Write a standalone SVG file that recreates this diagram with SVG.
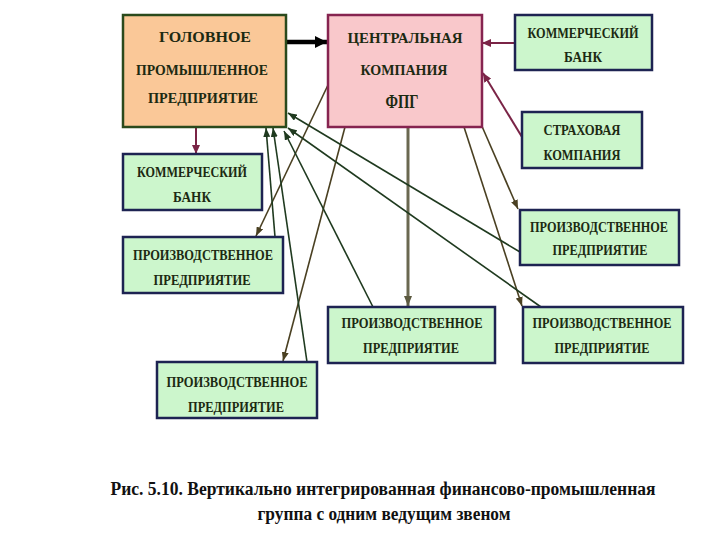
<svg xmlns="http://www.w3.org/2000/svg" width="720" height="540" viewBox="0 0 720 540">
<style>
.t{font-family:'Liberation Serif','DejaVu Serif',serif;font-weight:bold;font-size:15px;fill:#1c2a12;text-anchor:middle}
.cap{font-family:'Liberation Serif','DejaVu Serif',serif;font-weight:bold;font-size:18px;fill:#111;text-anchor:middle}
.g{fill:#ccf6cc;stroke:#1d2352;stroke-width:2.5}
.mar{stroke:#7a2446;stroke-width:2;fill:none}
.olv{stroke:#4a4022;stroke-width:1.6;fill:none}
.grn{stroke:#1f3a1f;stroke-width:1.6;fill:none}
</style>
<defs>
<marker id="aB" markerUnits="userSpaceOnUse" markerWidth="12" markerHeight="12" refX="12" refY="6" orient="auto"><path d="M0,0L12,6L0,12z" fill="#000"/></marker>
<marker id="aM" markerUnits="userSpaceOnUse" markerWidth="9" markerHeight="8" refX="9" refY="4" orient="auto"><path d="M0,0L9,4L0,8z" fill="#7a2446"/></marker>
<marker id="aO" markerUnits="userSpaceOnUse" markerWidth="9" markerHeight="7" refX="9" refY="3.5" orient="auto"><path d="M0,0L9,3.5L0,7z" fill="#4a4022"/></marker>
<marker id="aG" markerUnits="userSpaceOnUse" markerWidth="9" markerHeight="7" refX="9" refY="3.5" orient="auto"><path d="M0,0L9,3.5L0,7z" fill="#1f3a1f"/></marker>
<marker id="aV" markerUnits="userSpaceOnUse" markerWidth="10" markerHeight="8" refX="10" refY="4" orient="auto"><path d="M0,0L10,4L0,8z" fill="#5c5a40"/></marker>
</defs>
<rect width="720" height="540" fill="#fff"/>
<g id="connectors">
<path d="M286,42L327,42" stroke="#000" stroke-width="4.5" fill="none" marker-end="url(#aB)"/>
<path class="mar" d="M515,43L482,43" marker-end="url(#aM)"/>
<path class="mar" d="M522,137L483,73" marker-end="url(#aM)"/>
<path class="mar" d="M196,127L196,154" marker-end="url(#aM)"/>
<path class="olv" d="M328,85L256,236" marker-end="url(#aO)"/>
<path class="olv" d="M345,127L283,361" marker-end="url(#aO)"/>
<path d="M408,127L408,306" stroke="#6a6850" stroke-width="3" fill="none" marker-end="url(#aV)"/>
<path class="olv" d="M481,124L518,209" marker-end="url(#aO)"/>
<path class="olv" d="M464,127L522,306" marker-end="url(#aO)"/>
<path class="grn" d="M275,237L266,128" marker-end="url(#aG)"/>
<path class="grn" d="M307,362L273,128" marker-end="url(#aG)"/>
<path class="grn" d="M520,252L288,113" marker-end="url(#aG)"/>
<path class="grn" d="M541,307L288,128" marker-end="url(#aG)"/>
<path class="grn" d="M373,307L284,131" marker-end="url(#aG)"/>
</g>
<g id="head">
<rect x="123" y="15" width="163" height="112" fill="#fac898" stroke="#2a4a1c" stroke-width="2.5"/>
<text class="t" x="205" y="42" textLength="92" lengthAdjust="spacingAndGlyphs">ГОЛОВНОЕ</text>
<text class="t" x="202" y="75" textLength="132" lengthAdjust="spacingAndGlyphs">ПРОМЫШЛЕННОЕ</text>
<text class="t" x="203" y="103" textLength="110" lengthAdjust="spacingAndGlyphs">ПРЕДПРИЯТИЕ</text>
</g>
<g id="central">
<rect x="328" y="15" width="154" height="112" fill="#f9c8cb" stroke="#862450" stroke-width="2.5"/>
<text class="t" x="405" y="43" textLength="115" lengthAdjust="spacingAndGlyphs">ЦЕНТРАЛЬНАЯ</text>
<text class="t" x="404" y="75" textLength="87" lengthAdjust="spacingAndGlyphs">КОМПАНИЯ</text>
<text class="t" x="402" y="108" style="font-size:18px" textLength="33" lengthAdjust="spacingAndGlyphs">ФПГ</text>
</g>
<g id="bank-right">
<rect class="g" x="515" y="15" width="137" height="55"/>
<text class="t" x="583" y="38" textLength="111" lengthAdjust="spacingAndGlyphs">КОММЕРЧЕСКИЙ</text>
<text class="t" x="583" y="62" textLength="38" lengthAdjust="spacingAndGlyphs">БАНК</text>
</g>
<g id="insurance">
<rect class="g" x="522" y="112" width="120" height="56"/>
<text class="t" x="582" y="135" textLength="77" lengthAdjust="spacingAndGlyphs">СТРАХОВАЯ</text>
<text class="t" x="582" y="160" textLength="77" lengthAdjust="spacingAndGlyphs">КОМПАНИЯ</text>
</g>
<g id="bank-left">
<rect class="g" x="123" y="154" width="139" height="56"/>
<text class="t" x="192" y="177" textLength="110" lengthAdjust="spacingAndGlyphs">КОММЕРЧЕСКИЙ</text>
<text class="t" x="192" y="202" textLength="38" lengthAdjust="spacingAndGlyphs">БАНК</text>
</g>
<g id="prod-left">
<rect class="g" x="123" y="237" width="160" height="56"/>
<text class="t" x="203" y="260" textLength="140" lengthAdjust="spacingAndGlyphs">ПРОИЗВОДСТВЕННОЕ</text>
<text class="t" x="202" y="285" textLength="97" lengthAdjust="spacingAndGlyphs">ПРЕДПРИЯТИЕ</text>
</g>
<g id="prod-right-upper">
<rect class="g" x="520" y="210" width="159" height="55"/>
<text class="t" x="599" y="232" textLength="138" lengthAdjust="spacingAndGlyphs">ПРОИЗВОДСТВЕННОЕ</text>
<text class="t" x="600" y="255" textLength="95" lengthAdjust="spacingAndGlyphs">ПРЕДПРИЯТИЕ</text>
</g>
<g id="prod-middle">
<rect class="g" x="328" y="307" width="167" height="56"/>
<text class="t" x="412" y="328" textLength="141" lengthAdjust="spacingAndGlyphs">ПРОИЗВОДСТВЕННОЕ</text>
<text class="t" x="411" y="353" textLength="96" lengthAdjust="spacingAndGlyphs">ПРЕДПРИЯТИЕ</text>
</g>
<g id="prod-right-lower">
<rect class="g" x="523" y="307" width="160" height="56"/>
<text class="t" x="602" y="328" textLength="139" lengthAdjust="spacingAndGlyphs">ПРОИЗВОДСТВЕННОЕ</text>
<text class="t" x="602" y="353" textLength="95" lengthAdjust="spacingAndGlyphs">ПРЕДПРИЯТИЕ</text>
</g>
<g id="prod-bottom">
<rect class="g" x="157" y="362" width="160" height="56"/>
<text class="t" x="237" y="387" textLength="141" lengthAdjust="spacingAndGlyphs">ПРОИЗВОДСТВЕННОЕ</text>
<text class="t" x="236" y="412" textLength="96" lengthAdjust="spacingAndGlyphs">ПРЕДПРИЯТИЕ</text>
</g>
<g id="caption">
<text class="cap" x="383" y="495" textLength="545" lengthAdjust="spacingAndGlyphs">Рис. 5.10.  Вертикально интегрированная  финансово-промышленная</text>
<text class="cap" x="384" y="520" textLength="253" lengthAdjust="spacingAndGlyphs">группа с одним ведущим звеном</text>
</g>
</svg>
